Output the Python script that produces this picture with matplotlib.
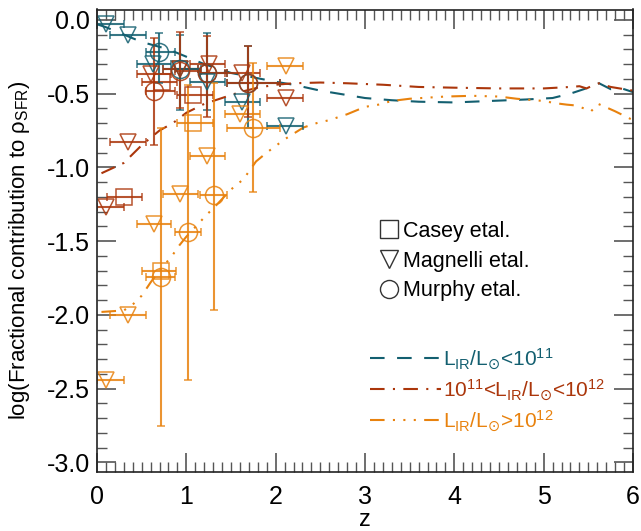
import numpy as np
import matplotlib.pyplot as plt
from matplotlib.lines import Line2D

plt.rcParams['font.family'] = ['Liberation Sans', 'DejaVu Sans']
plt.rcParams['mathtext.fontset'] = 'custom'
plt.rcParams['mathtext.rm'] = 'Liberation Sans'
plt.rcParams['mathtext.it'] = 'Liberation Sans:italic'
plt.rcParams['mathtext.bf'] = 'Liberation Sans:bold'
plt.rcParams['mathtext.sf'] = 'DejaVu Sans'

c_lo = '#135f70'
c_mid = '#ab360b'
c_hi = '#e8820e'

# model curves
mod_lo_z = [0.0, 0.1, 0.3, 0.5, 0.8, 1.0, 1.2, 1.5, 2.0, 2.2, 2.5, 2.8, 3.0, 3.3, 3.6, 4.0,
            4.4, 4.8, 5.1, 5.3, 5.45, 5.62, 5.75, 5.85, 6.0]
mod_lo_y = [-0.03, -0.05, -0.10, -0.15, -0.20, -0.25, -0.30, -0.36, -0.42, -0.44, -0.48, -0.51,
            -0.53, -0.545, -0.555, -0.56, -0.55, -0.54, -0.53, -0.50, -0.47, -0.43, -0.47, -0.46, -0.49]

mod_mid_z = [0.05, 0.3, 0.5, 0.7, 0.85, 1.0, 1.2, 1.4, 1.6, 1.8, 2.0, 2.2, 2.5, 2.8, 3.2, 3.6,
             4.0, 4.5, 5.0, 5.3, 5.4, 5.48, 5.55, 5.62, 5.75, 5.9, 6.0]
mod_mid_y = [-1.04, -0.97, -0.85, -0.75, -0.70, -0.63, -0.57, -0.53, -0.49, -0.46, -0.44, -0.43,
             -0.425, -0.43, -0.44, -0.455, -0.46, -0.465, -0.465, -0.455, -0.45, -0.465, -0.445,
             -0.43, -0.455, -0.47, -0.48]

mod_hi_z = [0.05, 0.3, 0.4, 0.5, 0.6, 0.7, 0.84, 0.92, 1.0, 1.23, 1.33, 1.5, 1.64, 1.78, 1.9,
            2.1, 2.31, 2.46, 2.6, 2.8, 3.0, 3.15, 3.3, 3.5, 3.9, 4.2, 4.5, 4.7, 5.0, 5.13, 5.26,
            5.35, 5.45, 5.53, 5.61, 5.67, 5.8, 5.9, 6.0]
mod_hi_y = [-1.98, -1.97, -1.93, -1.87, -1.78, -1.70, -1.60, -1.53, -1.47, -1.32, -1.26, -1.15,
            -1.08, -0.96, -0.90, -0.81, -0.73, -0.70, -0.68, -0.64, -0.59, -0.575, -0.55, -0.535,
            -0.52, -0.515, -0.52, -0.535, -0.55, -0.565, -0.575, -0.58, -0.60, -0.62, -0.57,
            -0.585, -0.62, -0.65, -0.68]

# Magnelli et al. (triangles)
mag_lo_z = [0.10, 0.35, 0.63, 0.93, 1.23, 1.62, 2.12]
mag_lo_y = [-0.03, -0.10, -0.30, -0.33, -0.42, -0.56, -0.72]
mag_mid_z = [0.10, 0.35, 0.61, 0.93, 1.25, 1.62, 2.12]
mag_mid_y = [-1.27, -0.83, -0.37, -0.33, -0.30, -0.36, -0.53]
mag_hi_z = [0.10, 0.35, 0.64, 0.93, 1.23, 1.60, 2.12]
mag_hi_y = [-2.44, -2.00, -1.385, -1.18, -0.92, -0.64, -0.315]
mag_zmin = [0.0, 0.15, 0.45, 0.74, 1.04, 1.43, 1.90]
mag_zmax = [0.30, 0.55, 0.83, 1.13, 1.43, 1.83, 2.31]

# Casey et al. (squares)
cas_mid_z = [0.30, 0.73, 1.08]
cas_mid_y = [-1.20, -0.42, -0.51]
cas_mid_zmin = [0.11, 0.50, 0.90]
cas_mid_zmax = [0.50, 0.90, 1.30]
cas_hi_z = [0.72, 1.08]
cas_hi_y = [-1.70, -0.70]
cas_hi_zmin = [0.50, 0.90]
cas_hi_zmax = [0.88, 1.30]

# Murphy et al. (circles)
mur_lo_z = [0.69, 0.93, 1.23, 1.69]
mur_lo_y = [-0.22, -0.33, -0.36, -0.43]
mur_lo_ytop = [-0.09, -0.10, -0.09, -0.18]
mur_lo_ybot = [-0.43, -0.61, -0.61, -0.73]
mur_mid_z = [0.64, 0.93, 1.23, 1.69]
mur_mid_y = [-0.485, -0.35, -0.36, -0.43]
mur_mid_ytop = [-0.12, -0.08, -0.11, -0.18]
mur_mid_ybot = [-0.85, -0.60, -0.66, -0.66]
mur_hi_z = [0.72, 1.02, 1.31, 1.75]
mur_hi_y = [-1.74, -1.44, -1.19, -0.73]
mur_hi_ytop = [-0.73, -0.44, -0.43, -0.29]
mur_hi_ybot = [-2.75, -2.44, -1.97, -1.17]
mur_zmin = [0.55, 0.87, 1.15, 1.45]
mur_zmax = [0.87, 1.16, 1.46, 2.05]

fig = plt.figure(figsize=(6.41, 5.31), dpi=100)
ax = fig.add_axes([97 / 641, 1 - 472 / 531, 536 / 641, 462.5 / 531])

ls_lo = (0, (7, 6))
ls_mid = (0, (7, 4, 1, 4))
ls_hi = (0, (7, 4, 1, 4, 1, 4, 1, 4))
ax.plot(mod_lo_z, mod_lo_y, color=c_lo, lw=1.5, ls=ls_lo)
ax.plot(mod_mid_z, mod_mid_y, color=c_mid, lw=1.5, ls=ls_mid)
ax.plot(mod_hi_z, mod_hi_y, color=c_hi, lw=1.5, ls=ls_hi)


def pts(z, y, zmin, zmax, col, mk, ms, ytop=None, ybot=None):
    z = np.array(z)
    y = np.array(y)
    xerr = [z - np.array(zmin), np.array(zmax) - z]
    yerr = None
    if ytop is not None:
        yerr = [y - np.array(ybot), np.array(ytop) - y]
    ax.errorbar(z, y, xerr=xerr, yerr=yerr, fmt=mk, ms=ms, mfc='none', mec=col,
                mew=1.1, ecolor=col, elinewidth=1.5, capsize=3, capthick=1.5, alpha=0.85)


pts(mag_lo_z, mag_lo_y, mag_zmin, mag_zmax, c_lo, 'v', 12)
pts(mag_mid_z, mag_mid_y, mag_zmin, mag_zmax, c_mid, 'v', 12)
pts(mag_hi_z, mag_hi_y, mag_zmin, mag_zmax, c_hi, 'v', 12)
pts(cas_mid_z, cas_mid_y, cas_mid_zmin, cas_mid_zmax, c_mid, 's', 12)
pts(cas_hi_z, cas_hi_y, cas_hi_zmin, cas_hi_zmax, c_hi, 's', 12)
pts(mur_lo_z, mur_lo_y, mur_zmin, mur_zmax, c_lo, 'o', 13, mur_lo_ytop, mur_lo_ybot)
pts(mur_mid_z, mur_mid_y, mur_zmin, mur_zmax, c_mid, 'o', 13, mur_mid_ytop, mur_mid_ybot)
pts(mur_hi_z, mur_hi_y, mur_zmin, mur_zmax, c_hi, 'o', 13, mur_hi_ytop, mur_hi_ybot)

ax.set_xlim(0, 6)
ax.set_ylim(-3.065, 0.07)
ax.set_xticks(np.arange(0, 7, 1))
ax.set_xticks(np.arange(0, 6.01, 0.1), minor=True)
ax.set_yticks(np.arange(-3.0, 0.01, 0.5))
ax.set_yticks(np.arange(-3.0, 0.06, 0.1), minor=True)
ax.set_yticklabels(['%.1f' % v for v in np.arange(-3.0, 0.01, 0.5)])
ax.tick_params(which='both', direction='in', top=True, right=True, colors='#555555',
               labelcolor='black', labelsize=18)
ax.tick_params(which='major', length=14, width=1.2)
ax.tick_params(which='minor', length=7, width=1.0)
ax.tick_params(axis='x', which='major', pad=9)
ax.tick_params(axis='y', which='major', pad=5)
for s in ax.spines.values():
    s.set_linewidth(1.2)
    s.set_color('#222222')

ax.set_xlabel('z', fontsize=17, va='baseline')
ax.xaxis.set_label_coords(0.5, -0.1175)
ax.set_ylabel('log(Fractional contribution to ρ$_{\\rm SFR}$)', fontsize=16)
ax.yaxis.set_label_coords(-0.122, 0.48)

# survey legend
sym = [Line2D([], [], ls='none', marker='s', ms=13, mfc='none', mec='#333333', mew=1),
       Line2D([], [], ls='none', marker='v', ms=13, mfc='none', mec='#333333', mew=1),
       Line2D([], [], ls='none', marker='o', ms=13, mfc='none', mec='#333333', mew=1)]
leg1 = ax.legend(sym, ['Casey etal.', 'Magnelli etal.', 'Murphy etal.'], loc='center left',
                 bbox_to_anchor=((379 - 97) / 536, 1 - (261 - 9.5) / 462.5), frameon=False,
                 fontsize=15.5, handlelength=0.9, handletextpad=0.2, borderpad=0,
                 borderaxespad=0, labelspacing=0.4)
ax.add_artist(leg1)

lines = [Line2D([], [], color=c_lo, lw=1.5, ls=ls_lo),
         Line2D([], [], color=c_mid, lw=1.5, ls=ls_mid),
         Line2D([], [], color=c_hi, lw=1.5, ls=ls_hi)]
labels = ['L$_{\\rm IR}$/L$_{\\mathsf{\\odot}}$<10$^{11}$',
          '10$^{11}$<L$_{\\rm IR}$/L$_{\\mathsf{\\odot}}$<10$^{12}$',
          'L$_{\\rm IR}$/L$_{\\mathsf{\\odot}}$>10$^{12}$']
leg2 = ax.legend(lines, labels, loc='center left',
                 bbox_to_anchor=((370 - 97) / 536, 1 - (390 - 9.5) / 462.5), frameon=False,
                 fontsize=15, handlelength=3.4, handletextpad=0.1, borderpad=0,
                 borderaxespad=0, labelspacing=0.3, labelcolor='linecolor')

plt.savefig('out.png', dpi=100)
plt.close()
